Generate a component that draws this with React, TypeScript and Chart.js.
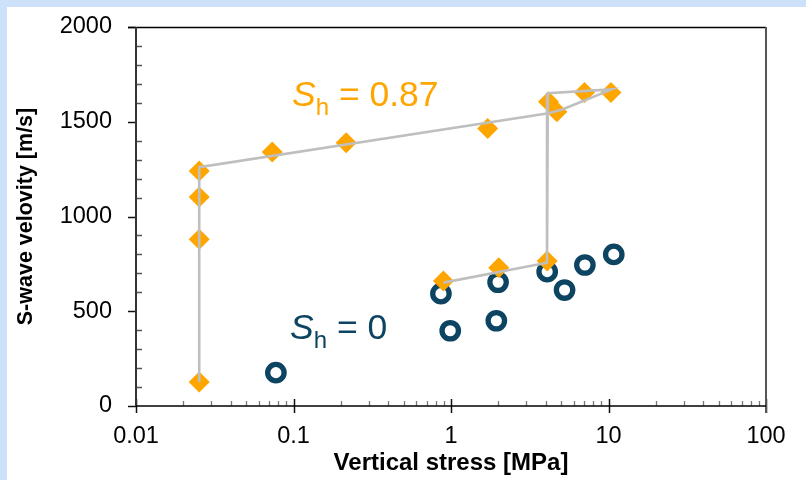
import React, { useEffect, useRef } from "react";
import { Chart, registerables } from "chart.js";

Chart.register(...registerables);

// Vertical stress [MPa] and S-wave velocity [m/s]
const SH087_STRESS = [0.0252, 0.0252, 0.0252, 0.0252, 0.0733, 0.216, 1.71, 4.16, 4.7, 7.04, 10.36, 0.895, 2.01, 4.08];
const SH087_VELOCITY = [127, 880, 1103, 1240, 1340, 1389, 1465, 1606, 1553, 1655, 1655, 660, 730, 765];

const SH0_STRESS = [0.0773, 0.863, 0.989, 1.99, 1.94, 4.08, 5.26, 7.08, 10.8];
const SH0_VELOCITY = [176, 593, 397, 653, 450, 709, 612, 744, 800];

// Stress path (loading / unloading) for the S_h = 0.87 sample
const PATH_STRESS = [0.0252, 0.0252, 4.16, 5.08, 10.5, 4.12, 4.07, 0.896];
const PATH_VELOCITY = [127, 1260, 1545, 1565, 1671, 1650, 756, 651];

const X_TICKS = [0.01, 0.1, 1, 10, 100];
const X_TICK_LABELS = ["0.01", "0.1", "1", "10", "100"];
const Y_MIN = 0;
const Y_MAX = 2000;
const Y_STEP = 500;
const Y_MINOR_STEP = 100;

const SH087_LABEL = "0.87";
const SH0_LABEL = "0";

const FAMILY = '"Liberation Sans", Arial, Helvetica, sans-serif';
const ORANGE = "#FFA500";
const NAVY = "#0D4461";
const PATH_GRAY = "#BFBFBF";

const toPoints = (xs: number[], ys: number[]) => xs.map((x, i) => ({ x, y: ys[i] }));

// Frame, major ticks outside / minor ticks inside, like a spreadsheet plot
const framePlugin = {
  id: "frame",
  beforeDatasetsDraw(chart: any) {
    const { ctx, chartArea: a, scales } = chart;
    const xs = scales.x;
    const ys = scales.y;
    ctx.save();
    // minor x ticks
    ctx.strokeStyle = "#777";
    ctx.lineWidth = 1.3;
    for (let d = -2; d < 2; d++) {
      for (let m = 2; m <= 9; m++) {
        const px = Math.round(xs.getPixelForValue(m * Math.pow(10, d))) + 0.5;
        ctx.beginPath();
        ctx.moveTo(px, a.bottom);
        ctx.lineTo(px, a.bottom - 5);
        ctx.stroke();
      }
    }
    // major x ticks crossing axis
    ctx.strokeStyle = "#111";
    ctx.lineWidth = 1.5;
    X_TICKS.forEach((v) => {
      const px = Math.round(xs.getPixelForValue(v)) + 0.5;
      ctx.beginPath();
      ctx.moveTo(px, a.bottom - 7);
      ctx.lineTo(px, a.bottom + 7);
      ctx.stroke();
    });
    // y ticks
    for (let v = Y_MIN; v <= Y_MAX; v += Y_MINOR_STEP) {
      const py = Math.round(ys.getPixelForValue(v)) + 0.5;
      ctx.beginPath();
      if (v % Y_STEP === 0) {
        ctx.strokeStyle = "#111";
        ctx.moveTo(a.left - 8, py);
        ctx.lineTo(a.left, py);
      } else {
        ctx.strokeStyle = "#555";
        ctx.moveTo(a.left, py);
        ctx.lineTo(a.left + 6, py);
      }
      ctx.stroke();
    }
    // top border
    ctx.strokeStyle = "#000";
    ctx.lineWidth = 1.5;
    ctx.beginPath();
    ctx.moveTo(a.left - 8, a.top + 0.5);
    ctx.lineTo(a.right, a.top + 0.5);
    ctx.stroke();
    // right border
    ctx.strokeStyle = "#555";
    ctx.lineWidth = 2;
    ctx.beginPath();
    ctx.moveTo(a.right, a.top);
    ctx.lineTo(a.right, a.bottom + 7);
    ctx.stroke();
    // left axis
    ctx.strokeStyle = "#333";
    ctx.lineWidth = 2;
    ctx.beginPath();
    ctx.moveTo(a.left, a.top);
    ctx.lineTo(a.left, a.bottom);
    ctx.stroke();
    // bottom axis
    ctx.strokeStyle = "#000";
    ctx.lineWidth = 1.6;
    ctx.beginPath();
    ctx.moveTo(a.left, a.bottom);
    ctx.lineTo(a.right, a.bottom);
    ctx.stroke();
    ctx.restore();
  },
};

function drawShLabel(ctx: CanvasRenderingContext2D, x: number, baseline: number, value: string, color: string) {
  ctx.fillStyle = color;
  ctx.textAlign = "left";
  ctx.textBaseline = "alphabetic";
  ctx.font = `italic 35.5px ${FAMILY}`;
  ctx.fillText("S", x, baseline);
  let cx = x + ctx.measureText("S").width;
  ctx.font = `24px ${FAMILY}`;
  ctx.fillText("h", cx, baseline + 9);
  cx += ctx.measureText("h").width;
  ctx.font = `35.5px ${FAMILY}`;
  ctx.fillText(" = " + value, cx, baseline);
}

const labelPlugin = {
  id: "shLabels",
  afterDatasetsDraw(chart: any) {
    const { ctx } = chart;
    ctx.save();
    drawShLabel(ctx, 292, 106, SH087_LABEL, ORANGE);
    drawShLabel(ctx, 290, 339, SH0_LABEL, NAVY);
    ctx.restore();
  },
};

export default function App() {
  const canvasRef = useRef<HTMLCanvasElement | null>(null);

  useEffect(() => {
    if (!canvasRef.current) return;
    const chart = new Chart(canvasRef.current, {
      type: "scatter",
      data: {
        datasets: [
          {
            label: "path",
            data: toPoints(PATH_STRESS, PATH_VELOCITY),
            showLine: true,
            borderColor: PATH_GRAY,
            borderWidth: 2.6,
            pointRadius: 0,
            pointHoverRadius: 0,
            fill: false,
          },
          {
            label: "Sh = 0.87",
            data: toPoints(SH087_STRESS, SH087_VELOCITY),
            pointStyle: "rectRot",
            pointRadius: 10.5,
            backgroundColor: ORANGE,
            borderColor: ORANGE,
            borderWidth: 0,
          },
          {
            label: "Sh = 0",
            data: toPoints(SH0_STRESS, SH0_VELOCITY),
            pointStyle: "circle",
            pointRadius: 8.2,
            backgroundColor: "rgba(0,0,0,0)",
            borderColor: NAVY,
            borderWidth: 5.3,
          },
        ],
      },
      options: {
        responsive: false,
        animation: false,
        devicePixelRatio: 1,
        layout: { padding: { left: 0, top: 27, right: 40, bottom: 0 } },
        plugins: { legend: { display: false }, tooltip: { enabled: false } },
        events: [],
        scales: {
          x: {
            type: "logarithmic",
            position: "bottom",
            min: X_TICKS[0],
            max: X_TICKS[X_TICKS.length - 1],
            afterBuildTicks: (s: any) => {
              s.ticks = X_TICKS.map((value) => ({ value }));
            },
            afterFit: (s: any) => {
              s.height = 74;
            },
            // tick marks are drawn by the frame plugin; tickLength only offsets the labels
            grid: { display: false, drawTicks: true, tickLength: 16 },
            border: { display: false },
            ticks: {
              autoSkip: false,
              maxRotation: 0,
              padding: 0,
              color: "#000",
              font: { family: FAMILY, size: 23.5 },
              callback: (_v: any, i: number) => X_TICK_LABELS[i],
            },
            title: {
              display: true,
              text: "Vertical stress [MPa]",
              color: "#000",
              font: { family: FAMILY, size: 24, weight: "bold" },
              padding: { top: 0, bottom: 2 },
            },
          },
          y: {
            type: "linear",
            position: "left",
            min: Y_MIN,
            max: Y_MAX,
            afterFit: (s: any) => {
              s.width = 136;
            },
            grid: { display: false, drawTicks: true, tickLength: 24 },
            border: { display: false },
            ticks: {
              stepSize: Y_STEP,
              padding: 0,
              color: "#000",
              font: { family: FAMILY, size: 23.5 },
              callback: (v: any) => String(v),
            },
            title: {
              display: true,
              text: "S-wave velovity [m/s]",
              color: "#000",
              font: { family: FAMILY, size: 21.5, weight: "bold" },
              padding: { top: 13, bottom: 0 },
            },
          },
        },
      },
      plugins: [framePlugin, labelPlugin],
    } as any);
    return () => chart.destroy();
  }, []);

  return (
    <div style={{ position: "fixed", left: 0, top: 0, width: 806, height: 480, background: "#CDE2FA" }}>
      <div style={{ position: "absolute", left: 7, top: 7, right: 0, bottom: 0, background: "#FFFFFF" }} />
      <canvas
        ref={canvasRef}
        width={806}
        height={480}
        style={{ position: "absolute", left: 0, top: 0, width: 806, height: 480, display: "block" }}
      />
    </div>
  );
}
